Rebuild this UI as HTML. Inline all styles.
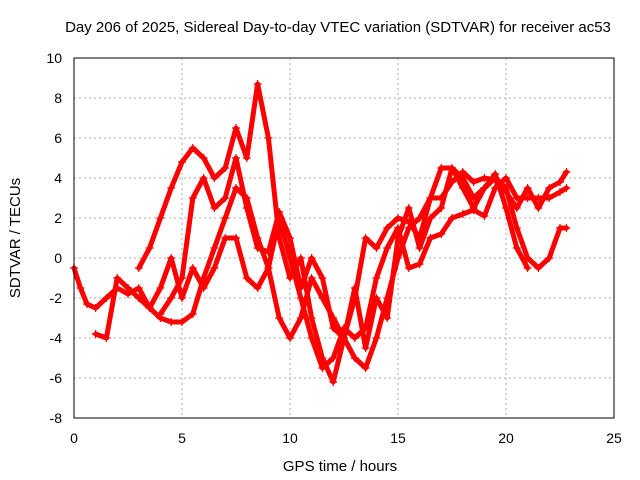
<!DOCTYPE html>
<html><head><meta charset="utf-8"><style>
body{margin:0;background:#fff}
svg{display:block;font-family:"Liberation Sans",sans-serif}
</style></head><body>
<svg id="chart" width="640" height="480">
<text x="338" y="32" text-anchor="middle" font-size="15">Day 206 of 2025, Sidereal Day-to-day VTEC variation (SDTVAR) for receiver ac53</text>
<text x="340" y="471" text-anchor="middle" font-size="15">GPS time / hours</text>
<text transform="translate(20,238) rotate(-90)" text-anchor="middle" font-size="15">SDTVAR / TECUs</text>
<g id="grid"></g><g id="ticks"></g><g id="marks"></g>
<rect x="74" y="58" width="540" height="360" fill="none" stroke="#000" stroke-width="1"/>
</svg>
<script>
const xTicks=[0,5,10,15,20,25];
const yTicks=[-8,-6,-4,-2,0,2,4,6,8,10];
const s1t=[0,0.3,0.6,1,1.5,2,2.5,3,3.5,4,4.5,5,5.5,6,6.5,7,7.5,8,8.5,9,9.5,10,10.5,11,11.5,12,12.5,13,13.5,14,14.5,15,15.5,16,16.5,17,17.5,18,18.5,19,19.5,20,20.5,21,21.5,22,22.5,22.8];
const s1v=[-0.5,-1.5,-2.3,-2.5,-2,-1.5,-1.8,-1.5,-2.5,-3,-3.2,-3.2,-2.8,-1,0.5,2,3.5,3,1,-0.5,-3,-4,-3,-1,-2,-3,-4,-5,-5.5,-4,-2,0,1.5,2,3,4.5,4.5,4,3,3.5,4,3.5,1.5,0,-0.5,0,1.5,1.5];
const s2t=[3,3.5,4,4.5,5,5.5,6,6.5,7,7.5,8,8.5,9,9.5,10,10.5,11,11.5,12,12.5,13,13.5,14,14.5,15,15.5,16,16.5,17,17.5,18,18.5,19,19.5,20,20.5,21];
const s2v=[-0.5,0.5,2,3.5,4.8,5.5,5,4,4.5,6.5,5,8.7,6,1,-1,0,-3,-5,-6.2,-4,-1.5,-4.5,-2,-3,1,2.5,0.5,2,2.5,4.5,3.5,2.5,3.5,4.2,2.5,0.5,-0.5];
const s3t=[1,1.5,2,2.5,3,3.5,4,4.5,5,5.5,6,6.5,7,7.5,8,8.5,9,9.5,10,10.5,11,11.5,12,12.5,13,13.5,14,14.5,15,15.5,16,16.5,17,17.5,18,18.5,19,19.5,20,20.5,21,21.5,22,22.5,22.8];
const s3v=[-3.8,-4,-1,-1.5,-2,-2.5,-1.5,0,-2,-0.5,-1.5,-0.5,1,1,-1,-1.5,-0.5,2,0,-2,-4,-5.5,-5,-3.5,-4,-3.5,-1,0.5,1.5,-0.5,-0.3,1,1.2,2,2.2,2.4,2.1,3.5,4,3,3,3,3,3.3,3.5];
const s4t=[4,4.5,5,5.5,6,6.5,7,7.5,8,8.5,9,9.5,10,10.5,11,11.5,12,12.5,13,13.5,14,14.5,15,15.5,16,16.5,17,17.5,18,18.5,19,19.5,20,20.5,21,21.5,22,22.5,22.8];
const s4v=[-2.8,-2,-1,3,4,2.5,3,5,2.5,0.5,0.3,2.3,1,-1.5,0,-1,-3.5,-4,-2,1,0.5,1.5,2,1.8,1,3,3,3.8,4.3,3.8,4,3.9,3.3,2.5,3.5,2.5,3.5,3.8,4.3];
const NS="http://www.w3.org/2000/svg";
function X(t){return 74+t*540/25;}
function Y(v){return 418-(v+8)*20;}
function mk(tag,attrs,parent){const e=document.createElementNS(NS,tag);for(const k in attrs)e.setAttribute(k,attrs[k]);parent.appendChild(e);return e;}
const grid=document.getElementById('grid'),ticks=document.getElementById('ticks'),marks=document.getElementById('marks');
xTicks.forEach(t=>{
  const g=mk('line',{x1:X(t),x2:X(t),y1:58,y2:418,stroke:'#aaa','stroke-dasharray':'2,3'},grid);
  
  
  const l=mk('text',{x:X(t),y:443,'text-anchor':'middle','font-size':14},ticks);l.textContent=t;
  
  
});
yTicks.forEach(v=>{
  const g=mk('line',{x1:74,x2:614,y1:Y(v),y2:Y(v),stroke:'#aaa','stroke-dasharray':'2,3'},grid);
  
  
  const l=mk('text',{x:62,y:Y(v)+5,'text-anchor':'end','font-size':14},ticks);l.textContent=v;
  
  
});
[[s1t,s1v],[s2t,s2v],[s3t,s3v],[s4t,s4v]].forEach((s,i)=>{
  const pts=s[0].map((t,j)=>X(t)+','+Y(s[1][j])).join(' ');
  const pl=mk('polyline',{points:pts,fill:'none',stroke:'#f00','stroke-width':5,'stroke-linejoin':'round','stroke-linecap':'round'},marks);
  
  
  s[0].forEach((t,j)=>{
    const x=X(t),y=Y(s[1][j]);
    const p=mk('path',{d:`M${x-4},${y}h8M${x},${y-4}v8`,stroke:'#f00','stroke-width':1.2},marks);
    
    
  });
});
</script>
</body></html>
